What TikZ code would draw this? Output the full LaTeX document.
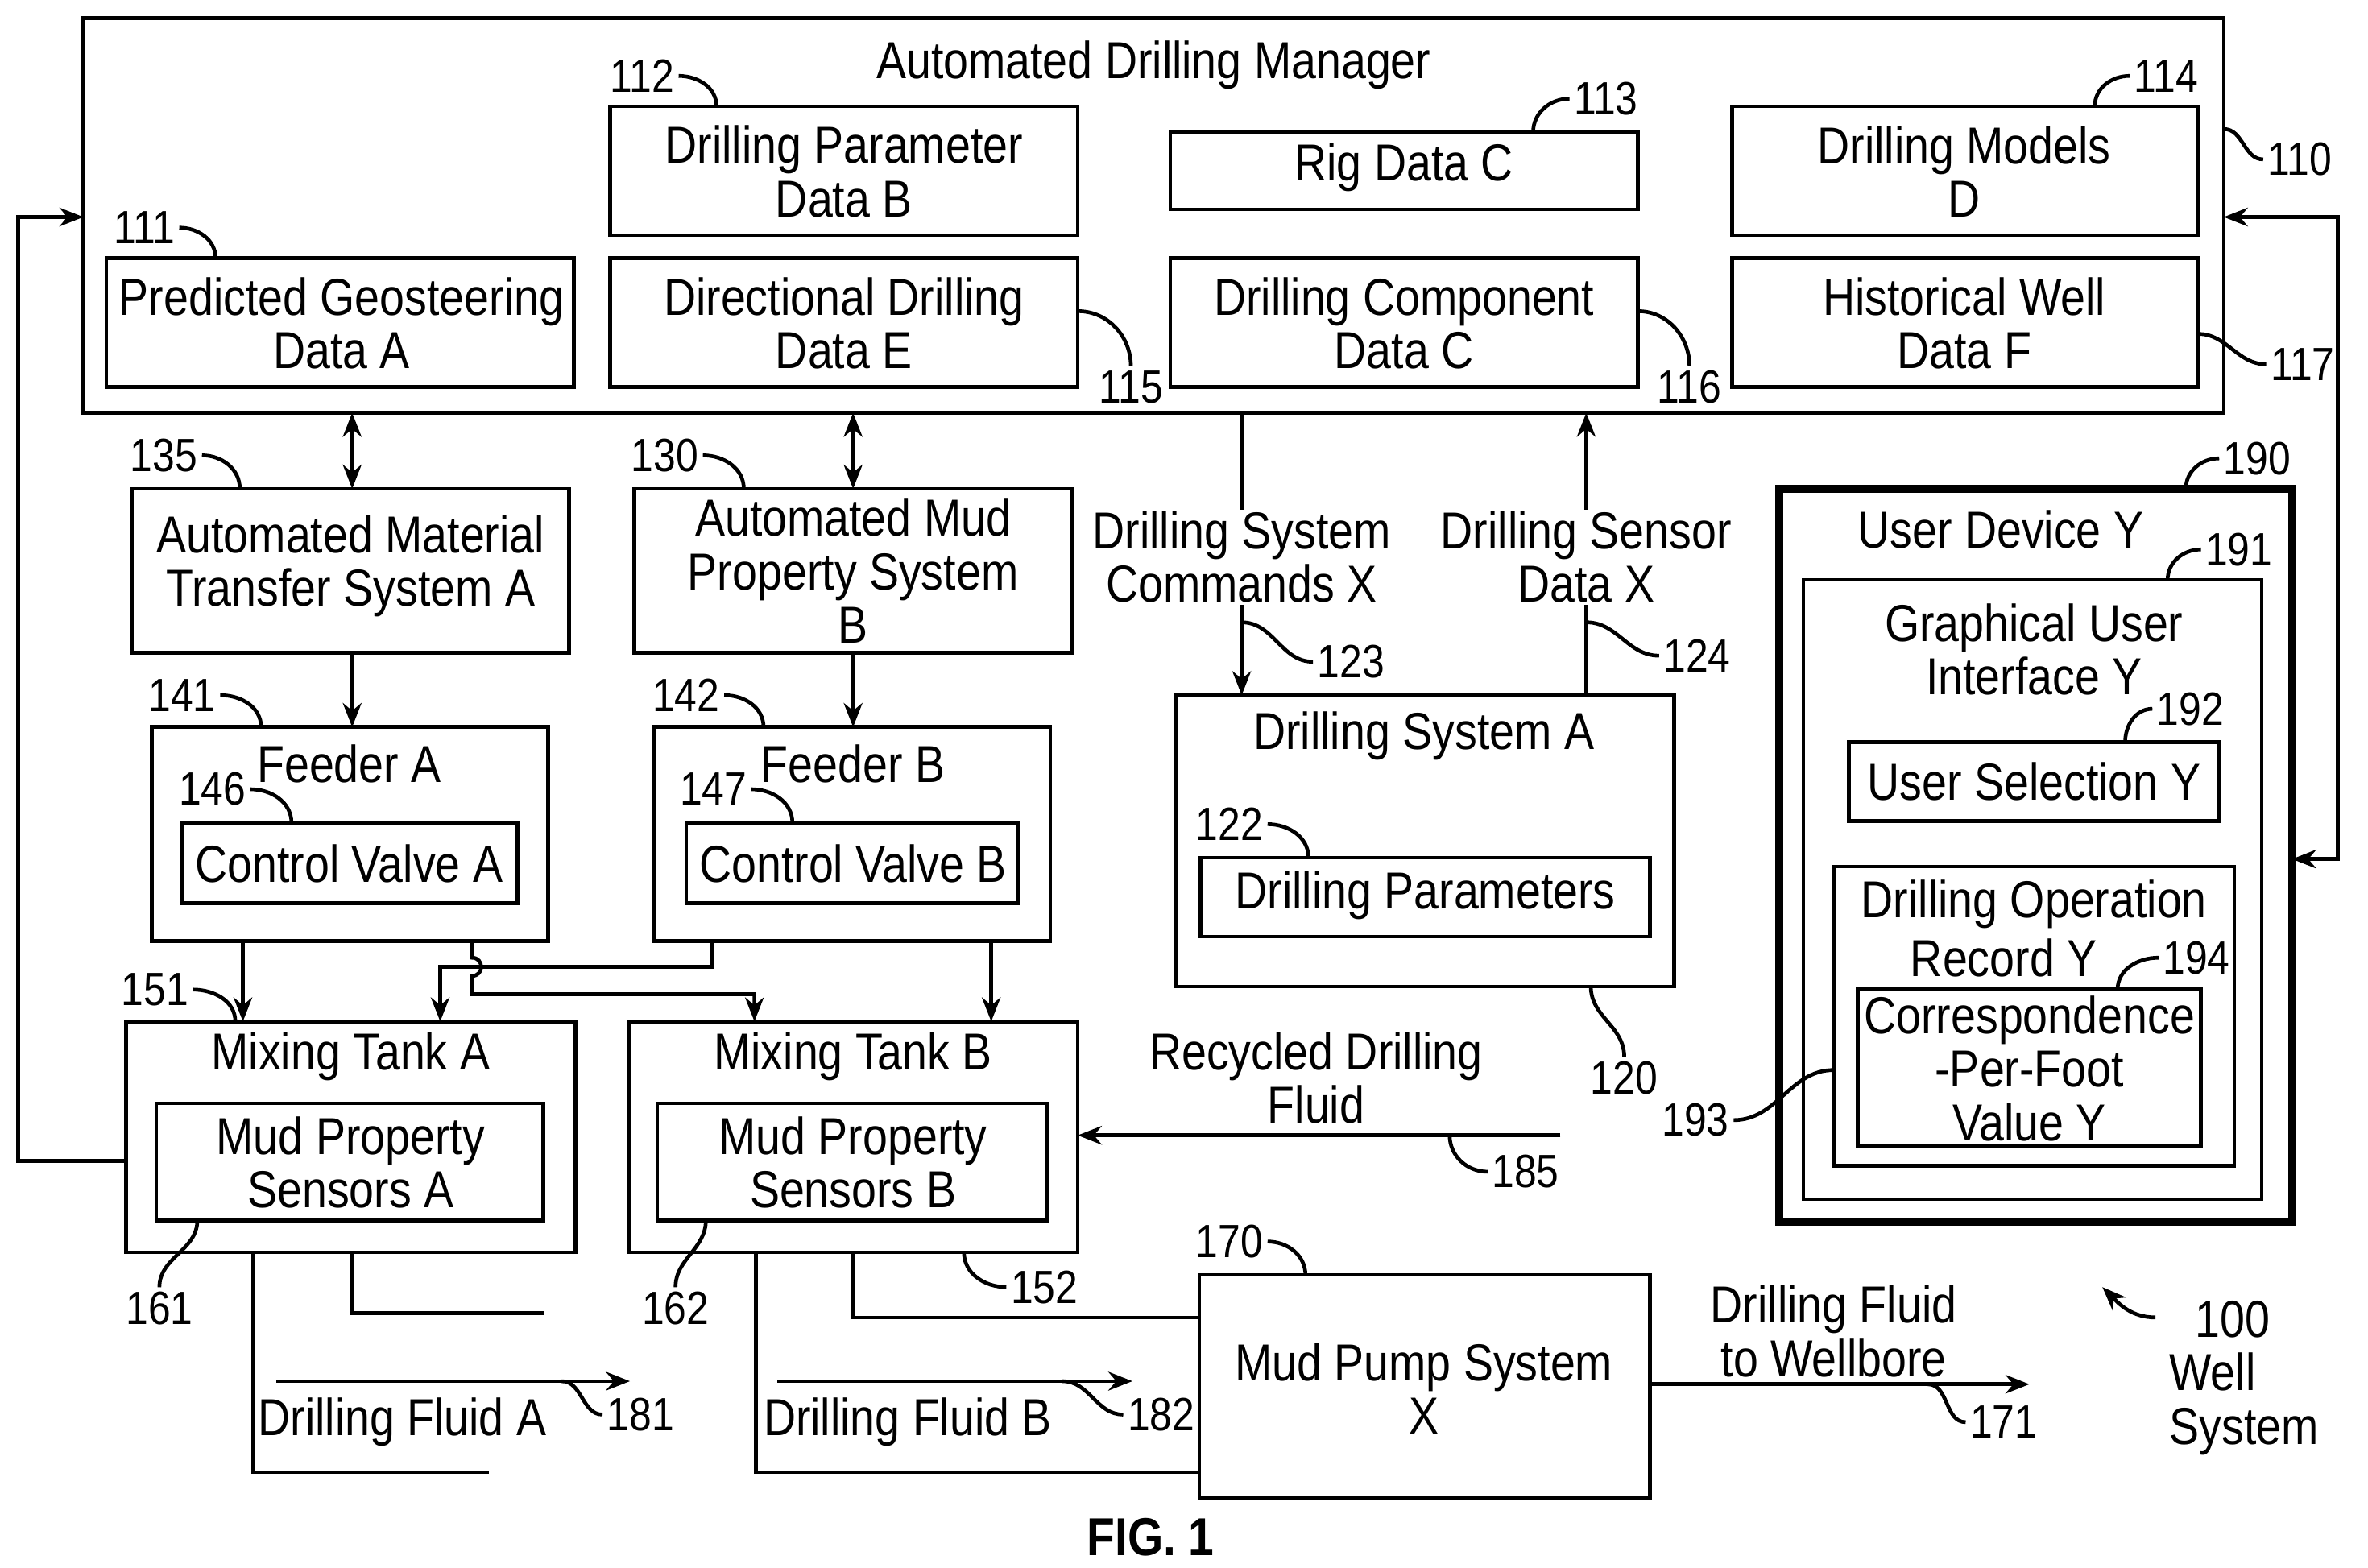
\documentclass[tikz,border=0pt]{standalone}
\usepackage{fontspec}
\setmainfont{Liberation Sans}[FakeStretch=0.86]
\usetikzlibrary{fit,arrows.meta}
\begin{document}
\begin{tikzpicture}[x=0.02cm,y=-0.02cm,line width=1.4pt,
  bx/.style={draw,inner sep=0pt,outer sep=0pt},
  t/.style={font=\fontsize{19.5}{20}\selectfont,align=center,inner sep=0pt},
  lab/.style={font=\fontsize{17.5}{19}\selectfont,inner sep=1pt},
  arr/.style={-{Stealth[length=9pt,width=7pt]}},
  darr/.style={{Stealth[length=9pt,width=7pt]}-{Stealth[length=9pt,width=7pt]}}]
\useasboundingbox (0,0) rectangle (1560,1032.6);
% ADM
\node[bx,fit={(55,12)(1465,272)}] (adm) {};
\node[t] (admt) at (760,43) {Automated Drilling Manager};
\node[bx,fit={(70,170)(378,255)}] (b111) {}; \node[t] at (225,213) {Predicted Geosteering\\Data A};
\node[bx,fit={(402,70)(710,155)}] (b112) {}; \node[t] at (556,113) {Drilling Parameter\\Data B};
\node[bx,fit={(402,170)(710,255)}] (b115) {}; \node[t] at (556,213) {Directional Drilling\\Data E};
\node[bx,fit={(771,87)(1079,138)}] (b113) {}; \node[t] at (925,110) {Rig Data C};
\node[bx,fit={(771,170)(1079,255)}] (b116) {}; \node[t] at (925,213) {Drilling Component\\Data C};
\node[bx,fit={(1141,70)(1448,155)}] (b114) {}; \node[t] at (1294,113) {Drilling Models\\D};
\node[bx,fit={(1141,170)(1448,255)}] (b117) {}; \node[t] at (1294,213) {Historical Well\\Data F};
\node[lab] (l110) at (1515,105) {110}; \draw (1465,85) to[out=0,in=180] (l110.west);
\node[lab] (l111) at (95,150) {111}; \draw (l111.east) to[out=0,in=90] (142,170);
\node[lab] (l112) at (423,50) {112}; \draw (l112.east) to[out=0,in=90] (472,70);
\node[lab] (l113) at (1058,65) {113}; \draw (l113.west) to[out=180,in=90] (1010,87);
\node[lab] (l114) at (1427,50) {114}; \draw (l114.west) to[out=180,in=90] (1380,70);
\node[lab] (l115) at (745,255) {115}; \draw (710,205) to[out=0,in=90] (l115.north);
\node[lab] (l116) at (1113,255) {116}; \draw (1079,205) to[out=0,in=90] (l116.north);
\node[lab] (l117) at (1517,240) {117}; \draw (1448,220) to[out=0,in=180] (l117.west);
% AMTS / AMPS
\node[bx,fit={(87,322)(375,430)}] (amts) {}; \node[t] at (231,373) {Automated Material\\Transfer System A};
\node[bx,fit={(418,322)(706,430)}] (amps) {}; \node[t] at (562,376) {Automated Mud\\Property System\\B};
\node[lab] (l135) at (108,300) {135}; \draw (l135.east) to[out=0,in=90] (158,322);
\node[lab] (l130) at (438,300) {130}; \draw (l130.east) to[out=0,in=90] (490,322);
\draw[darr] (232,272) -- (232,322);
\draw[darr] (562,272) -- (562,322);
% feeders
\node[bx,fit={(100,479)(361,620)}] (fa) {}; \node[t] at (230,503) {Feeder A};
\node[bx,fit={(120,542)(341,595)}] (cva) {}; \node[t] at (230,569) {Control Valve A};
\node[bx,fit={(431,479)(692,620)}] (fb) {}; \node[t] at (562,503) {Feeder B};
\node[bx,fit={(452,542)(671,595)}] (cvb) {}; \node[t] at (562,569) {Control Valve B};
\node[lab] (l141) at (120,458) {141}; \draw (l141.east) to[out=0,in=90] (172,479);
\node[lab] (l142) at (452,458) {142}; \draw (l142.east) to[out=0,in=90] (503,479);
\node[lab] (l146) at (140,520) {146}; \draw (l146.east) to[out=0,in=90] (192,542);
\node[lab] (l147) at (470,520) {147}; \draw (l147.east) to[out=0,in=90] (522,542);
\draw[arr] (232,430) -- (232,479);
\draw[arr] (562,430) -- (562,479);
% tanks
\node[bx,fit={(83,673)(379,825)}] (ta) {}; \node[t] at (231,696) {Mixing Tank A};
\node[bx,fit={(103,727)(358,804)}] (sa) {}; \node[t] at (231,766) {Mud Property\\Sensors A};
\node[bx,fit={(414,673)(710,825)}] (tb) {}; \node[t] at (562,696) {Mixing Tank B};
\node[bx,fit={(433,727)(690,804)}] (sb) {}; \node[t] at (562,766) {Mud Property\\Sensors B};
\node[lab] (l151) at (102,652) {151}; \draw (l151.east) to[out=0,in=90] (155,673);
\node[lab] (l161) at (105,862) {161}; \draw (l161.north) to[out=90,in=-90] (130,804);
\node[lab] (l162) at (445,862) {162}; \draw (l162.north) to[out=90,in=-90] (465,804);
\node[lab] (l152) at (688,848) {152}; \draw (l152.west) to[out=180,in=-90] (635,825);
\draw[arr] (160,620) -- (160,673);
\draw[arr] (653,620) -- (653,673);
\draw[arr] (469,620) -- (469,637) -- (290,637) -- (290,673);
\draw[arr] (311,620) -- (311,631) .. controls (319,631) and (319,643) .. (311,643) -- (311,655) -- (497,655) -- (497,673);
% drilling system
\node[bx,fit={(775,458)(1103,650)}] (ds) {}; \node[t] at (938,485) {Drilling System A};
\node[bx,fit={(791,565)(1087,617)}] (dp) {}; \node[t] at (939,590) {Drilling Parameters};
\node[lab] (l122) at (810,543) {122}; \draw (l122.east) to[out=0,in=90] (862,565);
\node[lab] (l120) at (1070,710) {120}; \draw (1048,650) to[out=-90,in=90] (l120.north);
\node[t] (dsc) at (818,367) {Drilling System\\Commands X};
\node[t] (dsd) at (1045,367) {Drilling Sensor\\Data X};
\draw (818,272) -- (dsc.north);
\draw[arr] (dsc.south) -- (818,458);
\draw[arr] (dsd.north) -- (1045,272);
\draw (1045,458) -- (dsd.south);
\node[lab] (l123) at (890,436) {123}; \draw (818,410) to[out=0,in=180] (l123.west);
\node[lab] (l124) at (1118,432) {124}; \draw (1045,410) to[out=0,in=180] (l124.west);
% user device
\node[draw,line width=3pt,inner sep=0pt,outer sep=0pt,fit={(1172,322)(1510,805)}] (ud) {};
\node[t] at (1318,349) {User Device Y};
\node[bx,fit={(1188,382)(1490,790)}] (gui) {};
\node[t] at (1340,428) {Graphical User\\Interface Y};
\node[bx,fit={(1218,489)(1462,541)}] (us) {}; \node[t] at (1340,515) {User Selection Y};
\node[bx,fit={(1208,571)(1472,768)}] (dor) {}; \node[t] at (1340,596) {Drilling Operation};
\node[t] at (1320,631) {Record Y};
\node[bx,fit={(1224,652)(1450,755)}] (cpf) {}; \node[t] at (1337,704) {Correspondence\\-Per-Foot\\Value Y};
\node[lab] (l190) at (1487,302) {190}; \draw (l190.west) to[out=180,in=90] (1440,322);
\node[lab] (l191) at (1475,362) {191}; \draw (l191.west) to[out=180,in=90] (1428,382);
\node[lab] (l192) at (1443,467) {192}; \draw (l192.west) to[out=180,in=90] (1400,489);
\node[lab] (l194) at (1447,631) {194}; \draw (l194.west) to[out=180,in=90] (1395,652);
\node[lab] (l193) at (1117,738) {193}; \draw (l193.east) to[out=0,in=180] (1208,705);
\draw[darr] (1465,143) -- (1540,143) -- (1540,566) -- (1510,566);
\draw[arr] (83,765) -- (12,765) -- (12,143) -- (55,143);
% recycled
\node[t] at (867,710) {Recycled Drilling\\Fluid};
\coordinate (rc) at (1028,748);
\draw[arr] (rc) -- (710,748);
\node[lab] (l185) at (1005,772) {185}; \draw (955,748) to[out=-90,in=180] (l185.west);
% outlets
\draw (167,825) -- (167,970) -- (322,970);
\draw (232,825) -- (232,865) -- (358,865);
\draw[arr] (182,910) -- (415,910);
\node[t] at (265,937) {Drilling Fluid A};
\node[lab] (l181) at (422,932) {181}; \draw (370,910) to[out=0,in=180] (l181.west);
\node[bx,fit={(790,840)(1087,987)}] (mp) {}; \node[t] at (938,915) {Mud Pump System\\X};
\node[lab] (l170) at (810,818) {170}; \draw (l170.east) to[out=0,in=90] (860,840);
\draw (498,825) -- (498,970) -- (790,970);
\draw (562,825) -- (562,868) -- (790,868);
\draw[arr] (512,910) -- (746,910);
\node[t] at (598,937) {Drilling Fluid B};
\node[lab] (l182) at (765,932) {182}; \draw (700,910) to[out=0,in=180] (l182.west);
\draw[arr] (1087,912) -- (1337,912);
\node[t] at (1208,877) {Drilling Fluid\\to Wellbore};
\node[lab] (l171) at (1320,937) {171}; \draw (1270,912) to[out=0,in=180] (l171.west);
\node[t,align=left,anchor=north west] (ws) at (1428,856) {\hspace*{0.5em}100\\Well\\System};
\draw[arr] (1420,868) to[out=180,in=-45] (1385,848);
\node[font=\bfseries\fontsize{20}{22}\selectfont] (fig) at (758,1013) {FIG. 1};
\end{tikzpicture}
\end{document}
